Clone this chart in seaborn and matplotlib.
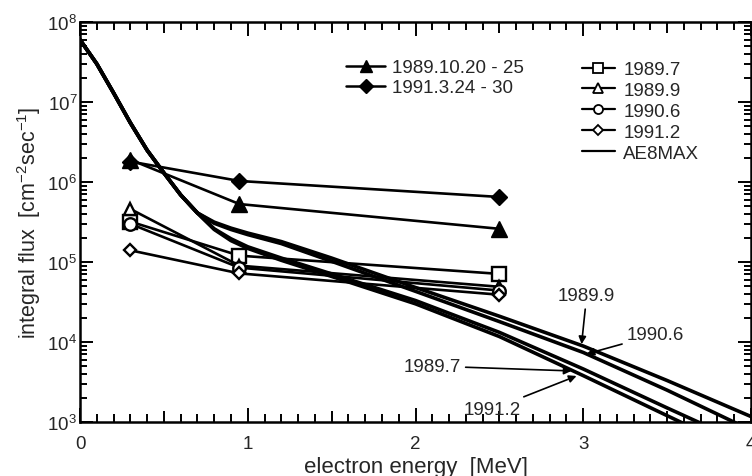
import numpy as np
import pandas as pd
import matplotlib
matplotlib.use("Agg")
import matplotlib.pyplot as plt
import seaborn as sns
from matplotlib.lines import Line2D
from matplotlib.ticker import FixedLocator, LogLocator, NullFormatter, LogFormatterMathtext, FuncFormatter

# Measured integral electron flux at three energy thresholds (MeV)
energy_mev = [0.3, 0.95, 2.5]

storm_labels = ["1989.10.20 - 25", "1991.3.24 - 30"]
flux_1989_10 = [1.9e6, 5.3e5, 2.6e5]
flux_1991_3 = [1.8e6, 1.03e6, 6.5e5]

epoch_labels = ["1989.7", "1989.9", "1990.6", "1991.2"]
flux_1989_7 = [3.2e5, 1.2e5, 7.1e4]
flux_1989_9 = [4.6e5, 9.0e4, 4.9e4]
flux_1990_6 = [3.0e5, 8.5e4, 4.4e4]
flux_1991_2 = [1.4e5, 7.2e4, 3.9e4]

# AE8MAX model spectra evaluated for each epoch
model_energy = [0, 0.1, 0.2, 0.3, 0.4, 0.5, 0.6, 0.7, 0.8, 0.9, 1.0,
                1.2, 1.5, 2.0, 2.5, 3.0, 3.5, 4.0]
ae8_1989_9 = [6.0e7, 3.0e7, 1.3e7, 5.5e6, 2.5e6, 1.3e6, 6.9e5, 4.1e5, 3.15e5,
              2.65e5, 2.3e5, 1.8e5, 1.12e5, 4.8e4, 2.1e4, 8.9e3, 3.3e3, 1.17e3]
ae8_1990_6 = [6.0e7, 3.0e7, 1.3e7, 5.5e6, 2.5e6, 1.3e6, 6.9e5, 4.1e5, 3.05e5,
              2.55e5, 2.2e5, 1.7e5, 1.02e5, 4.3e4, 1.8e4, 7.4e3, 2.5e3, 7.9e2]
ae8_1989_7 = [6.0e7, 3.0e7, 1.3e7, 5.5e6, 2.5e6, 1.3e6, 6.9e5, 4.1e5, 2.6e5,
              1.95e5, 1.55e5, 1.12e5, 7.1e4, 3.3e4, 1.32e4, 4.6e3, 1.5e3, 5.0e2]
ae8_1991_2 = [6.0e7, 3.0e7, 1.3e7, 5.5e6, 2.5e6, 1.3e6, 6.9e5, 4.1e5, 2.55e5,
              1.85e5, 1.48e5, 1.05e5, 6.6e4, 3.0e4, 1.17e4, 3.8e3, 1.2e3, 3.8e2]

x_ticks = [0, 1, 2, 3, 4]

sns.set_theme(style="ticks")
plt.rcParams["font.family"] = ["Liberation Sans", "DejaVu Sans"]
plt.rcParams["mathtext.fontset"] = "custom"
plt.rcParams["mathtext.rm"] = "Liberation Sans"
plt.rcParams["mathtext.it"] = "Liberation Sans:italic"
plt.rcParams["mathtext.bf"] = "Liberation Sans:bold"
plt.rcParams["axes.edgecolor"] = "black"
plt.rcParams["axes.linewidth"] = 1.8

fig = plt.figure(figsize=(7.52, 4.77), dpi=100)
ax = fig.add_axes([80 / 752, 1 - 423 / 477, 671 / 752, 400 / 477])
ax.set_yscale("log")

# model curves
for curve in [ae8_1989_9, ae8_1990_6, ae8_1989_7, ae8_1991_2]:
    sns.lineplot(x=model_energy, y=curve, ax=ax, color="black", lw=2.6,
                 sort=False, estimator=None, zorder=2)

# quiet-epoch observations (open markers)
open_series = [
    (flux_1989_7, "s", 10),
    (flux_1989_9, "^", 9),
    (flux_1990_6, "o", 9),
    (flux_1991_2, "D", 6.5),
]
for vals, mk, ms in open_series:
    sns.lineplot(x=energy_mev, y=vals, ax=ax, color="black", lw=1.9,
                 marker=mk, markersize=ms, markerfacecolor="white",
                 markeredgecolor="black", markeredgewidth=1.7,
                 sort=False, estimator=None, zorder=3)

# storm-period observations (filled markers)
for vals, mk, ms in [(flux_1989_10, "^", 11), (flux_1991_3, "D", 8.5)]:
    sns.lineplot(x=energy_mev, y=vals, ax=ax, color="black", lw=1.9,
                 marker=mk, markersize=ms, markerfacecolor="black",
                 markeredgecolor="black", markeredgewidth=1,
                 sort=False, estimator=None, zorder=4)

ax.set_xlim(0, 4)
ax.set_ylim(1e3, 1e8)

# x ticks: integers labelled, half-integers medium, tenths minor
half_ticks = list(np.arange(0, 4.01, 0.5))
ax.xaxis.set_major_locator(FixedLocator(half_ticks))
ax.xaxis.set_major_formatter(FuncFormatter(
    lambda v, p: f"{int(round(v))}" if abs(v - round(v)) < 1e-6 and round(v) in x_ticks else ""))
ax.xaxis.set_minor_locator(FixedLocator(list(np.arange(0, 4.001, 0.1))))
ax.yaxis.set_major_locator(LogLocator(base=10, numticks=10))
ax.yaxis.set_major_formatter(LogFormatterMathtext())
ax.yaxis.set_minor_locator(LogLocator(base=10, subs=np.arange(2, 10), numticks=20))
ax.yaxis.set_minor_formatter(NullFormatter())

ax.tick_params(which="both", direction="in", top=True, right=True,
               color="black", width=1.4)
ax.tick_params(axis="x", which="major", length=10, pad=9.5, labelsize=13.5)
ax.tick_params(axis="x", which="minor", length=5.5)
ax.tick_params(axis="y", which="major", length=9.5, pad=2, labelsize=13.5)
ax.tick_params(axis="y", which="minor", length=5)

for v, t in zip(half_ticks, ax.xaxis.get_major_ticks()):
    if abs(v - round(v)) > 1e-6:
        t.tick1line.set_markersize(8)
        t.tick2line.set_markersize(8)

ax.set_xlabel("electron energy  [MeV]", fontsize=16, labelpad=3)
ax.set_ylabel(r"integral flux  [cm$^{-2}$sec$^{-1}$]", fontsize=15.5, labelpad=3)

# legends
h_storm = [
    Line2D([], [], color="black", lw=1.8, marker="^", markersize=9,
           markerfacecolor="black", markeredgecolor="black"),
    Line2D([], [], color="black", lw=1.8, marker="D", markersize=7,
           markerfacecolor="black", markeredgecolor="black"),
]
leg1 = ax.legend(h_storm, storm_labels, loc="upper left",
                 bbox_to_anchor=(346 / 752, 1 - 60 / 477),
                 bbox_transform=fig.transFigure, frameon=False,
                 fontsize=13.5, handlelength=2.1, handletextpad=0.35,
                 labelspacing=0.17, borderpad=0, borderaxespad=0)
ax.add_artist(leg1)

h_epoch = [
    Line2D([], [], color="black", lw=1.6, marker="s", markersize=6.5,
           markerfacecolor="white", markeredgecolor="black", markeredgewidth=1.3),
    Line2D([], [], color="black", lw=1.6, marker="^", markersize=6.5,
           markerfacecolor="white", markeredgecolor="black", markeredgewidth=1.3),
    Line2D([], [], color="black", lw=1.6, marker="o", markersize=6.5,
           markerfacecolor="white", markeredgecolor="black", markeredgewidth=1.3),
    Line2D([], [], color="black", lw=1.6, marker="D", markersize=5,
           markerfacecolor="white", markeredgecolor="black", markeredgewidth=1.3),
    Line2D([], [], color="black", lw=1.6),
]
ax.legend(h_epoch, epoch_labels + ["AE8MAX"], loc="upper left",
          bbox_to_anchor=(582 / 752, 1 - 62 / 477),
          bbox_transform=fig.transFigure, frameon=False,
          fontsize=13.5, handlelength=1.75, handletextpad=0.45,
          labelspacing=0.2, borderpad=0, borderaxespad=0)

# curve labels with arrows
arrow = dict(arrowstyle="-|>", color="black", lw=1.2, mutation_scale=11,
             shrinkA=1, shrinkB=0)
ax.annotate("1989.9", xy=(2.99, 9.4e3), xytext=(3.02, 3.76e4),
            ha="center", va="center", fontsize=13.5, arrowprops=arrow)
ax.annotate("1990.6", xy=(3.02, 7.1e3), xytext=(3.43, 1.23e4),
            ha="center", va="center", fontsize=13.5, arrowprops=arrow)
ax.annotate("1989.7", xy=(2.93, 4.35e3), xytext=(2.1, 5.0e3),
            ha="center", va="center", fontsize=13.5, arrowprops=arrow)
ax.annotate("1991.2", xy=(2.96, 3.76e3), xytext=(2.46, 1.45e3),
            ha="center", va="center", fontsize=13.5, arrowprops=arrow)

fig.savefig("out.png", dpi=100)
